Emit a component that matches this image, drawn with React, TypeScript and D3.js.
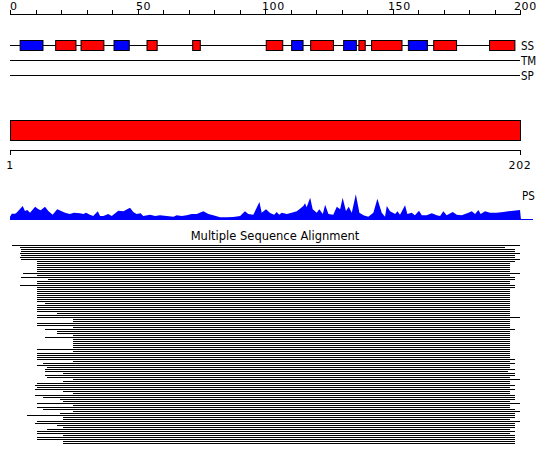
import React from 'react';
import * as d3 from 'd3';

// sequence overview: positions are residues
const seqLength = 202;
const topTicks = d3.range(0, 201, 10);
const topLabels = [0, 50, 100, 150, 200];
const bottomLabels = [1, 202];
const trackNames = ['SS', 'TM', 'SP'];
const ssEnd = 200;

// secondary structure elements [start, end]
const helices = [
  [19, 27], [29, 38], [55, 59], [73, 76], [102, 108.5], [119.5, 128.5],
  [138.5, 141], [143.5, 155.5], [168, 177], [190, 200],
];
const strands = [
  [5, 14], [42, 48], [112, 116.5], [132.5, 137.5], [158, 165.5],
];

// profile score [residue, value]
const psPoints: [number, number][] = [
  [1, 0], [1, 3.3], [1.7, 6.3], [3, 6.3], [3.6, 7.3], [6, 14], [6.9, 9], [7.8, 10], [8.9, 7.3],
  [10.9, 13.3], [12.2, 10.7], [13.1, 9.7], [14.8, 13.3], [16.1, 9], [17.8, 5.3], [19.6, 10.7],
  [21.4, 8.7], [22.7, 7.3], [24.6, 6], [26.2, 7.3], [28.6, 6.7], [29.9, 6], [31, 7.3], [32.5, 5.3],
  [33.8, 4], [35.6, 8.7], [36.5, 4], [37.8, 4], [39.7, 6], [41.1, 4], [43.7, 9.3], [45.7, 8.7],
  [48.3, 12.3], [49.6, 8], [50.9, 6], [52.5, 6.7], [53.5, 4], [56.2, 5.3], [58.2, 4], [60.1, 4.7],
  [62.8, 4], [65.4, 3.3], [66.7, 4.7], [68.7, 4], [70.6, 4.7], [72.6, 6], [74.6, 6], [77.2, 8.7],
  [79.2, 6], [81.1, 4.7], [83.8, 2.7], [86.4, 2.7], [89, 3], [91.7, 4], [93.6, 8.7], [94.9, 6],
  [96.9, 5.3], [99.3, 18], [100.2, 7.3], [101.9, 10.7], [103.5, 7], [105.1, 5.3], [106.1, 8],
  [107.1, 5.3], [108.1, 7.3], [110.1, 6], [112, 7.3], [114, 8.7], [115.3, 11.3], [116.6, 14],
  [117.3, 16.7], [117.9, 12.7], [119.3, 22.3], [120.3, 10.7], [121.9, 7.3], [122.9, 10.7],
  [124.3, 6], [125.2, 15.3], [126.5, 6], [128.4, 5.3], [129.8, 13.3], [131.1, 10.7], [132.1, 22.3],
  [133.4, 9], [134.5, 13.3], [135.7, 7.3], [137.3, 25.7], [138.7, 7.3], [140.3, 4.7], [142.2, 3.3],
  [144.2, 7.3], [145.8, 21.3], [147.5, 7.3], [148.8, 3.3], [149.5, 14], [150.8, 8.7], [152.8, 6],
  [153.7, 8.7], [154.7, 5.3], [156.7, 14.7], [157.6, 6], [159.3, 7.3], [160.6, 4.7], [162.2, 9.3],
  [163.3, 4.7], [165.2, 4.7], [167.2, 6.7], [169.2, 4.7], [170.5, 4], [171.8, 8.7], [173.1, 4.7],
  [175.5, 8], [177.1, 5.3], [179, 4.7], [181.7, 7.3], [183, 8.7], [184.3, 6], [185.6, 10],
  [186.5, 6], [188.2, 8.7], [190.2, 7.3], [192.8, 7.3], [195.4, 8], [197.4, 8.7], [199.4, 9.3],
  [202, 10], [202.4, 0],
];

// alignment rows: first and last covered residue
const alignStarts = [
  1.9, 4.9, 5.2, 5.2, 4.9, 5.2, 4.9, 5.2, 11.5, 11.5,
  11.5, 11.5, 11.5, 11.5, 6.0, 11.5, 5.2, 15.9, 11.5, 11.5,
  4.9, 11.5, 11.5, 11.5, 11.5, 11.5, 11.5, 11.5, 11.5, 14.8,
  11.5, 11.5, 11.5, 11.5, 19.6, 11.5, 11.5, 26.0, 26.0, 11.5,
  11.5, 26.0, 14.9, 19.6, 19.6, 26.0, 14.9, 26.0, 26.0, 26.0,
  26.0, 26.0, 11.8, 26.0, 11.8, 11.8, 11.8, 11.8, 26.0, 13.9,
  11.8, 15.7, 14.9, 14.9, 22.0, 14.9, 15.7, 26.0, 22.0, 11.8,
  11.0, 11.8, 11.0, 22.0, 26.0, 11.0, 13.9, 20.7, 22.0, 11.8,
  26.0, 11.8, 13.9, 26.0, 20.7, 7.8, 22.0, 22.0, 11.8, 11.0,
  19.6, 22.0, 15.7, 11.8, 11.8, 22.0, 11.8, 11.8, 22.0, 22.0,
];
const alignEnds = [
  202, 196, 200, 200, 202, 200, 200, 202, 200, 198,
  198, 198, 198, 198, 202, 198, 200, 200, 198, 198,
  200, 200, 198, 198, 198, 198, 198, 198, 198, 198,
  198, 198, 198, 198, 198, 198, 202, 198, 198, 198,
  198, 198, 200, 198, 198, 198, 198, 198, 198, 198,
  198, 198, 198, 198, 198, 198, 198, 200, 198, 200,
  198, 198, 200, 197.2, 200, 200, 198, 202, 198, 198,
  200, 198, 200, 198, 198, 200, 200, 200, 198, 202,
  198, 198, 200, 202, 200, 200, 200, 198, 202, 200,
  200, 200, 198, 200, 198, 200, 200, 200, 200, 200,
];

const font = 'DejaVu Sans, sans-serif';
const labelFont = 'DejaVu Sans Condensed, DejaVu Sans, sans-serif';

const App = () => {
  const topX = d3.scaleLinear().domain([0, 200]).range([10, 520]);
  const x = d3.scaleLinear().domain([1, seqLength]).range([10, 520]);
  const trackY = d3.scalePoint<string>().domain(trackNames).range([45.5, 75.5]);
  const psY = d3.scaleLinear().domain([0, 26]).range([220, 194]);
  const rowY = d3.scaleLinear().domain([0, 1]).range([245, 247]);

  const area = d3.area<[number, number]>()
    .x(d => x(d[0]))
    .y0(psY(0))
    .y1(d => psY(d[1]));

  return (
    <svg width={550} height={465} style={{ position: 'absolute', left: 0, top: 0 }}
      fontFamily={font}>
      <rect width={550} height={465} fill="#fff" />

      {/* top ruler */}
      <line x1={topX(0)} x2={topX(200)} y1={14.5} y2={14.5} stroke="#000" />
      {topTicks.map(t => (
        <line key={t} x1={Math.round(topX(t)) + 0.5} x2={Math.round(topX(t)) + 0.5}
          y1={10} y2={15} stroke="#000" />
      ))}
      {topLabels.map(t => (
        <text key={t} x={topX(t) - t / 200 * 6} y={10} fontSize={11} letterSpacing={0.6}>{t}</text>
      ))}

      {/* tracks */}
      {trackNames.map(n => (
        <g key={n}>
          <line x1={x(1)} x2={n === 'SS' ? x(ssEnd) : x(seqLength)}
            y1={trackY(n)} y2={trackY(n)} stroke="#000" />
          <text x={521} y={(trackY(n) as number) + 4.5} fontSize={11.5}
            fontFamily={labelFont}>{n}</text>
        </g>
      ))}
      {helices.map(([a, b], i) => (
        <rect key={'h' + i} x={x(a)} y={40.5} width={x(b) - x(a)} height={10}
          fill="#ff0000" stroke="#000" />
      ))}
      {strands.map(([a, b], i) => (
        <rect key={'s' + i} x={x(a)} y={40.5} width={x(b) - x(a)} height={10}
          fill="#0000ff" stroke="#000" />
      ))}

      {/* domain bar */}
      <rect x={x(1) + 0.5} y={120.5} width={x(seqLength) - x(1)} height={20}
        fill="#ff0000" stroke="#000" />
      <line x1={x(1)} x2={x(seqLength)} y1={150.5} y2={150.5} stroke="#000" />
      {bottomLabels.map(t => (
        <g key={t}>
          <line x1={x(t) + 0.5} x2={x(t) + 0.5} y1={150} y2={155} stroke="#000" />
          <text x={x(t)} y={169} fontSize={11} textAnchor="middle" letterSpacing={0.6}>{t}</text>
        </g>
      ))}

      {/* profile */}
      <path d={area(psPoints) || ''} fill="#0000ff" />
      <line x1={x(1)} x2={533} y1={219.5} y2={219.5} stroke="#0000ff" />
      <text x={522} y={200} fontSize={11.5} fontFamily={labelFont}>PS</text>

      {/* alignment */}
      <text x={275} y={240} fontSize={11.5} textAnchor="middle">Multiple Sequence Alignment</text>
      <g shapeRendering="crispEdges">
        {alignStarts.map((s, i) => (
          <rect key={'a' + i} x={x(s)} y={rowY(i)} width={x(alignEnds[i]) - x(s)} height={1}
            fill="#000" />
        ))}
      </g>
    </svg>
  );
};

export default App;
